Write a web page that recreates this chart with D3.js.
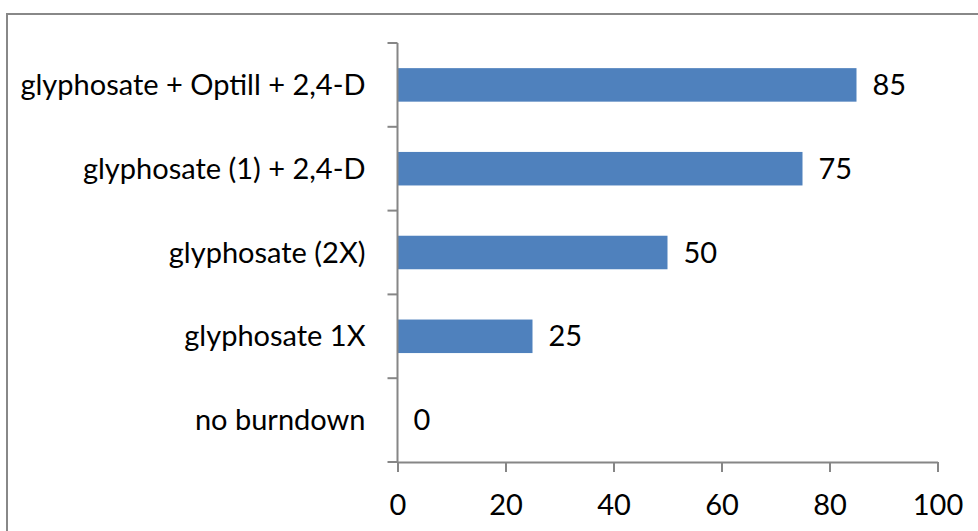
<!DOCTYPE html>
<html>
<head>
<meta charset="utf-8">
<script src="https://cdn.jsdelivr.net/npm/d3@7"></script>
<style>
  body { margin: 0; background: #fff; }
  svg text { font-family: Lato, "Open Sans", sans-serif; fill: #000; }
</style>
</head>
<body>
<div id="figure"></div>
<script>
// chart data
var categories = ["glyphosate + Optill + 2,4-D", "glyphosate (1) + 2,4-D", "glyphosate (2X)", "glyphosate 1X", "no burndown"];
var values = [85, 75, 50, 25, 0];
var xTicks = [0, 20, 40, 60, 80, 100];

var W = 978, H = 531;
var fontSize = 29;
var margin = {top: 43, left: 397.5, right: 40.5, bottom: 69};
var width = W - margin.left - margin.right,
    height = H - margin.top - margin.bottom;

var data = categories.map((c, i) => ({group: c, value: values[i]}));

const svg = d3.select("#figure")
  .append("svg")
  .attr("width", W)
  .attr("height", H);

// outer frame
svg.append("rect")
  .attr("x", 7).attr("y", 14)
  .attr("width", W + 20).attr("height", H + 20)
  .attr("fill", "none")
  .attr("stroke", "#888")
  .attr("stroke-width", 2);

const g = svg.append("g")
  .attr("transform", `translate(${margin.left},${margin.top})`);

const x = d3.scaleLinear().domain([0, 100]).range([0, width]);
const y = d3.scaleBand().domain(categories).range([0, height]).paddingInner(0.6).paddingOuter(0.3);
const yTicks = d3.scaleBand().domain(categories).range([0, height]);

// bars
g.selectAll("rect.bar")
  .data(data)
  .join("rect")
  .attr("class", "bar")
  .attr("x", 0)
  .attr("y", d => y(d.group))
  .attr("width", d => x(d.value))
  .attr("height", y.bandwidth())
  .attr("fill", "#4f81bd");

// value labels
g.selectAll("text.val")
  .data(data)
  .join("text")
  .attr("class", "val")
  .attr("x", d => x(d.value) + 16)
  .attr("y", d => y(d.group) + y.bandwidth() / 2)
  .attr("dy", "0.35em")
  .attr("font-size", fontSize)
  .text(d => d.value);

// x axis
const xAxis = g.append("g")
  .attr("transform", `translate(0,${height})`)
  .call(d3.axisBottom(x).tickValues(xTicks).tickSize(10).tickPadding(22).tickSizeOuter(0));
xAxis.selectAll("text").attr("font-size", fontSize).attr("font-family", "Lato, sans-serif");

// y axis with ticks at band boundaries
const yAxis = g.append("g");
yAxis.append("line")
  .attr("x1", 0).attr("x2", 0)
  .attr("y1", 0).attr("y2", height)
  .attr("stroke", "#868686").attr("stroke-width", 2);
var bounds = categories.map(c => yTicks(c)).concat([height]);
yAxis.selectAll("line.tick")
  .data(bounds)
  .join("line")
  .attr("class", "tick")
  .attr("x1", -10).attr("x2", 0)
  .attr("y1", d => d).attr("y2", d => d)
  .attr("stroke", "#868686").attr("stroke-width", 2);
yAxis.selectAll("text")
  .data(categories)
  .join("text")
  .attr("x", -32)
  .attr("y", d => yTicks(d) + yTicks.bandwidth() / 2)
  .attr("dy", "0.35em")
  .attr("text-anchor", "end")
  .attr("font-size", fontSize)
  .text(d => d);

xAxis.select(".domain").attr("stroke", "#868686").attr("stroke-width", 2);
xAxis.selectAll(".tick line").attr("stroke", "#868686").attr("stroke-width", 2);
</script>
</body>
</html>
